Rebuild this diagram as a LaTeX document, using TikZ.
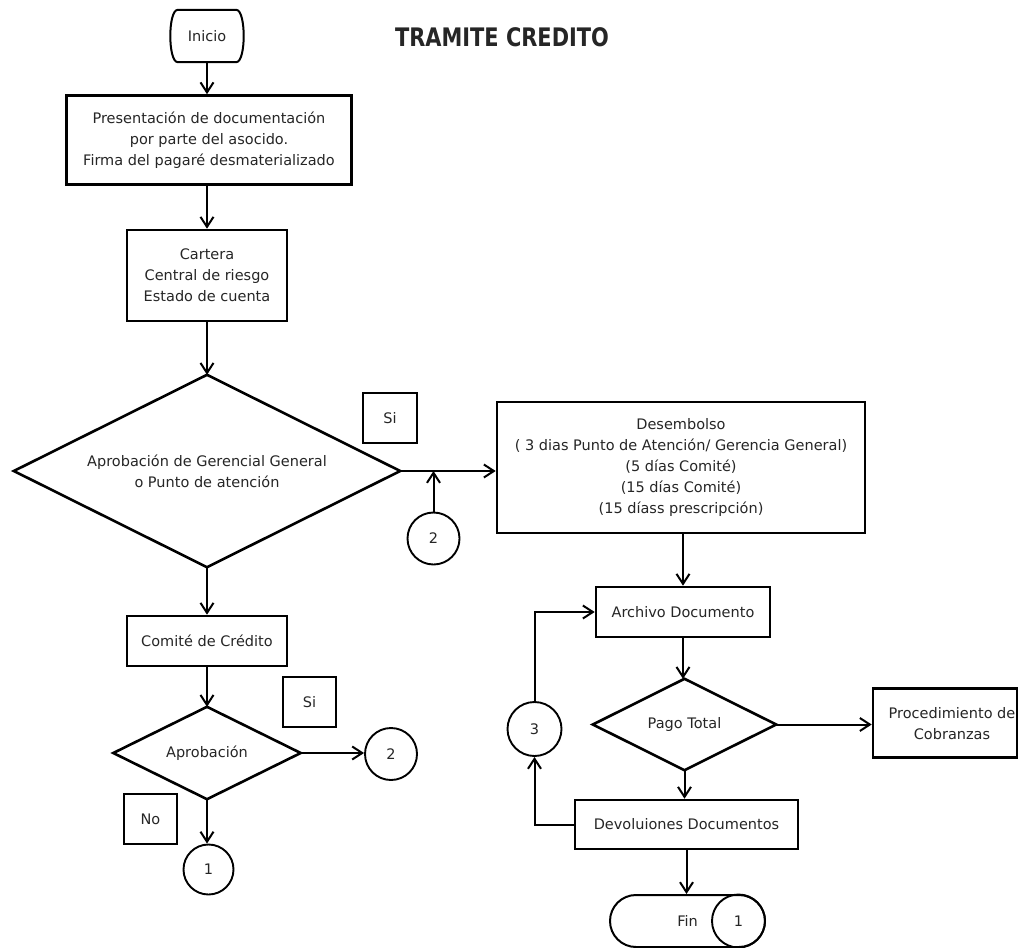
\documentclass[tikz,border=0pt]{standalone}
\usepackage{fontspec}
\setmainfont{DejaVu Sans}
\usepackage{graphicx}
\usetikzlibrary{arrows.meta}
\begin{document}
\begin{tikzpicture}[x=1pt,y=-1pt,
  every node/.style={font=\fontsize{14.5}{21}\selectfont, text=black!85},
  box/.style={draw=black, line width=2.6pt, inner sep=0pt, align=center},
  plain/.style={inner sep=0pt, align=center},
  decline/.style={draw=black, line width=2.6pt, line join=miter},
  conn/.style={draw=black, line width=1.9pt, circle, inner sep=0pt, minimum size=52pt},
  arr/.style={draw=black, line width=2pt, -{Straight Barb[length=10pt,width=13pt,line width=2pt]}},
  ln/.style={draw=black, line width=2pt}
]
\useasboundingbox (0,0) rectangle (1019,947);
\fill[white] (0,0) rectangle (1019,947);

% title
\node[plain, font=\fontsize{25.5}{28}\selectfont\bfseries] (title) at (502,37) {\scalebox{0.82}[1]{TRAMITE CREDITO}};

% Inicio
\node[plain, minimum width=74pt, minimum height=52pt] (inicio) at (207,36) {Inicio};
\draw[line width=2pt] ([xshift=8pt]inicio.north west) -- ([xshift=-8pt]inicio.north east)
  .. controls ([xshift=2pt]inicio.north east) and ([xshift=2pt]inicio.south east) .. ([xshift=-8pt]inicio.south east)
  -- ([xshift=8pt]inicio.south west)
  .. controls ([xshift=-2pt]inicio.south west) and ([xshift=-2pt]inicio.north west) .. ([xshift=8pt]inicio.north west) -- cycle;

% left column
\node[box, minimum width=285pt, minimum height=89pt] (box1) at (209,140)
  {Presentación de documentación\\por parte del asocido.\\Firma del pagaré desmaterializado};
\node[box, minimum width=160pt, minimum height=91pt] (cartera) at (207,275.5)
  {Cartera\\Central de riesgo\\Estado de cuenta};
\node[plain, minimum width=386pt, minimum height=192pt] (dec1) at (207,471)
  {Aprobación de Gerencial General\\o Punto de atención};
\draw[decline] (dec1.north) -- (dec1.east) -- (dec1.south) -- (dec1.west) -- cycle;
\node[box, minimum width=54pt, minimum height=50pt] (si1) at (390,418) {Si};
\node[conn] (c2a) at (433.5,538.5) {2};

\node[box, minimum width=160pt, minimum height=50pt] (comite) at (207,641) {Comité de Crédito};
\node[plain, minimum width=187pt, minimum height=92pt] (aprob) at (207,753) {Aprobación};
\draw[decline] (aprob.north) -- (aprob.east) -- (aprob.south) -- (aprob.west) -- cycle;
\node[box, minimum width=53pt, minimum height=50pt] (si2) at (309.5,702) {Si};
\node[conn] (c2b) at (391,754) {2};
\node[box, minimum width=53pt, minimum height=50pt] (no) at (150.5,819) {No};
\node[conn, minimum size=50pt] (c1) at (208.5,869.5) {1};

% right column
\node[box, minimum width=368pt, minimum height=131pt] (desemb) at (681,467.5)
  {Desembolso\\( 3 dias Punto de Atención/ Gerencia General)\\(5 días Comité)\\(15 días Comité)\\(15 díass prescripción)};
\node[box, minimum width=174pt, minimum height=50pt] (archivo) at (683,612) {Archivo Documento};
\node[plain, minimum width=183pt, minimum height=91pt] (pago) at (684.5,724.5) {Pago Total};
\draw[decline] (pago.north) -- (pago.east) -- (pago.south) -- (pago.west) -- cycle;
\node[box, minimum width=144pt, minimum height=69pt] (proc) at (945,723) {};
\node[plain] (proctxt) at (952,724) {Procedimiento de\\Cobranzas};
\node[box, minimum width=223pt, minimum height=49pt] (devol) at (686.5,824.5) {Devoluiones Documentos};
\node[conn, minimum size=54pt] (c3) at (534.5,729) {3};
\node[draw=black, line width=2pt, rounded corners=26pt, minimum width=155pt, minimum height=52pt, inner sep=0pt] (fin) at (687.5,921) {Fin};
\node[conn, minimum size=53pt] (c1b) at (738.5,921) {1};

% connectors
\draw[arr] (inicio.south) -- (inicio.south |- box1.north);
\draw[arr] (box1.south -| cartera.north) -- (cartera.north);
\draw[arr] (cartera.south) -- (dec1.north);
\draw[arr] (dec1.east) -- (dec1.east -| desemb.west);
\draw[arr] (c2a.north) -- (c2a.north |- dec1.east);
\draw[arr] (dec1.south) -- (comite.north);
\draw[arr] (comite.south) -- (aprob.north);
\draw[arr] (aprob.east) -- (aprob.east -| c2b.west);
\draw[arr] (aprob.south) -- (aprob.south |- c1.north);

\draw[arr] (archivo.north |- desemb.south) -- (archivo.north);
\draw[arr] (archivo.south) -- (archivo.south |- pago.north);
\draw[arr] (pago.east) -- (pago.east -| proc.west);
\draw[arr] (pago.south) -- (pago.south |- devol.north);
\draw[arr] (devol.south) -- (devol.south |- fin.north);
\draw[arr] (devol.west) -| (c3.south);
\draw[arr] (c3.north) |- (archivo.west);
\end{tikzpicture}
\end{document}
